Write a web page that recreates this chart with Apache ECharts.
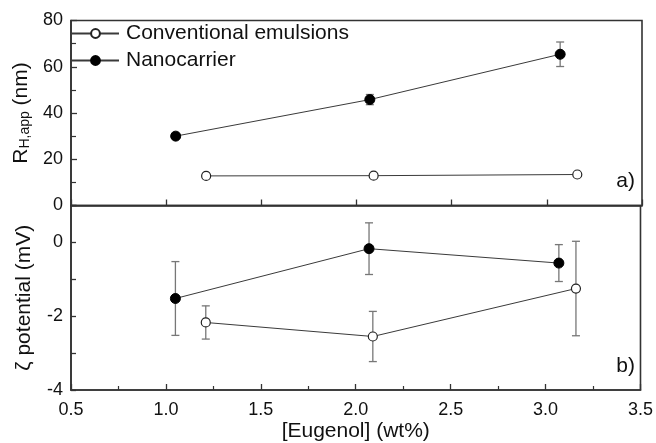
<!DOCTYPE html>
<html>
<head>
<meta charset="utf-8">
<script src="https://cdn.jsdelivr.net/npm/echarts@6/dist/echarts.min.js"></script>
<style>
  html, body { margin: 0; padding: 0; background: #fff; }
  #chart { width: 656px; height: 443px; }
</style>
</head>
<body>
<div id="chart"></div>
<script>
// eugenol content (wt%) of each sample
const convX = [1.21, 2.09, 3.16];
const nanoX = [1.05, 2.07, 3.07];

// apparent hydrodynamic radius (nm) and its error
const convR = [12.8, 12.9, 13.4];
const convRErr = [0.5, 0.5, 0.6];
const nanoR = [30.0, 45.8, 65.4];
const nanoRErr = [0.8, 2.2, 5.3];

// zeta potential (mV) and its error
const convZeta = [-2.17, -2.55, -1.25];
const convZetaErr = [0.45, 0.68, 1.28];
const nanoZeta = [-1.52, -0.17, -0.56];
const nanoZetaErr = [1.0, 0.7, 0.5];

const FONT = "Liberation Sans, Arial, sans-serif";
const AXIS_COLOR = "#333";
const LINE_COLOR = "#3a3a3a";
const ERR_COLOR = "#777";

const pairs = (xs, ys) => xs.map((x, i) => [x, ys[i]]);
const errData = (xs, ys, es) => xs.map((x, i) => [x, ys[i] - es[i], ys[i] + es[i]]);

function renderErr(params, api) {
  const lo = api.coord([api.value(0), api.value(1)]);
  const hi = api.coord([api.value(0), api.value(2)]);
  const w = 4;
  const style = { stroke: ERR_COLOR, lineWidth: 1.3 };
  return {
    type: "group",
    children: [
      { type: "line", shape: { x1: lo[0], y1: lo[1], x2: hi[0], y2: hi[1] }, style },
      { type: "line", shape: { x1: lo[0] - w, y1: lo[1], x2: lo[0] + w, y2: lo[1] }, style },
      { type: "line", shape: { x1: hi[0] - w, y1: hi[1], x2: hi[0] + w, y2: hi[1] }, style },
    ],
  };
}

const openMarker = { color: "#fff", borderColor: "#222", borderWidth: 1.2 };
const filledMarker = { color: "#000", borderColor: "#000", borderWidth: 1 };

const xCommon = {
  type: "value",
  min: 0.5,
  max: 3.5,
  interval: 0.5,
  axisLine: { onZero: false, lineStyle: { color: AXIS_COLOR, width: 1.6 } },
  axisTick: { inside: true, length: 6, lineStyle: { color: AXIS_COLOR, width: 1.3 } },
  splitLine: { show: false },
};

const chart = echarts.init(document.getElementById("chart"), null, { renderer: "canvas" });

chart.setOption({
  backgroundColor: "#fff",
  animation: false,
  textStyle: { fontFamily: FONT },
  grid: [
    { left: 71, right: 14, top: 20.5, height: 185, show: true, borderColor: AXIS_COLOR, borderWidth: 1.6 },
    { left: 71, right: 14, top: 205.5, bottom: 51, show: true, borderColor: AXIS_COLOR, borderWidth: 1.6 },
  ],
  legend: {
    orient: "vertical",
    left: 71,
    top: 23,
    padding: 0,
    itemWidth: 47,
    itemHeight: 11,
    itemGap: 6,
    textStyle: { fontFamily: FONT, fontSize: 21, color: "#111", padding: [0, 0, 0, 2] },
    data: ["Conventional emulsions", "Nanocarrier"],
  },
  graphic: [
    { type: "text", right: 21, top: 171, style: { text: "a)", font: "21px " + FONT, fill: "#111" } },
    { type: "text", right: 21, top: 356, style: { text: "b)", font: "21px " + FONT, fill: "#111" } },
  ],
  xAxis: [
    Object.assign({}, xCommon, { gridIndex: 0, axisLabel: { show: false } }),
    Object.assign({}, xCommon, {
      gridIndex: 1,
      minorTick: { show: true, splitNumber: 2, length: 4, lineStyle: { color: AXIS_COLOR, width: 1.2 } },
      axisLabel: {
        margin: 11,
        fontSize: 18,
        color: "#111",
        formatter: (v) => v.toFixed(1),
      },
      name: "[Eugenol] (wt%)",
      nameLocation: "middle",
      nameGap: 31,
      nameTextStyle: { fontSize: 21, color: "#111" },
    }),
  ],
  yAxis: [
    {
      type: "value",
      gridIndex: 0,
      min: 0,
      max: 80,
      interval: 20,
      axisLine: { show: true, lineStyle: { color: AXIS_COLOR, width: 1.6 } },
      axisTick: { inside: true, length: 6, lineStyle: { color: AXIS_COLOR, width: 1.3 } },
      minorTick: { show: true, splitNumber: 2, length: 5, lineStyle: { color: AXIS_COLOR, width: 1.2 } },
      splitLine: { show: false },
      axisLabel: { margin: 8, fontSize: 18, color: "#111" },
      name: "{r|R}{s|H,app}{r| (nm)}",
      nameLocation: "middle",
      nameRotate: 90,
      nameGap: 36,
      nameTextStyle: {
        color: "#111",
        rich: {
          r: { fontSize: 21, fontFamily: FONT, color: "#111", verticalAlign: "bottom", lineHeight: 27 },
          s: { fontSize: 14, fontFamily: FONT, color: "#111", verticalAlign: "bottom", lineHeight: 14 },
        },
      },
    },
    {
      type: "value",
      gridIndex: 1,
      min: -4,
      max: 1,
      interval: 1,
      axisLine: { show: true, onZero: false, lineStyle: { color: AXIS_COLOR, width: 1.6 } },
      axisTick: { inside: true, length: 5, lineStyle: { color: AXIS_COLOR, width: 1.3 } },
      splitLine: { show: false },
      axisLabel: {
        margin: 8,
        fontSize: 18,
        color: "#111",
        formatter: (v) => (v % 2 === 0 ? String(v) : ""),
      },
      name: "ζ potential (mV)",
      nameLocation: "middle",
      nameRotate: 90,
      nameGap: 36,
      nameTextStyle: { fontSize: 21, color: "#111" },
    },
  ],
  series: [
    {
      name: "Conventional emulsions",
      type: "line",
      xAxisIndex: 0,
      yAxisIndex: 0,
      data: pairs(convX, convR),
      symbol: "circle",
      symbolSize: 9,
      z: 3,
      lineStyle: { color: LINE_COLOR, width: 1 },
      itemStyle: openMarker,
    },
    {
      name: "Nanocarrier",
      type: "line",
      xAxisIndex: 0,
      yAxisIndex: 0,
      data: pairs(nanoX, nanoR),
      symbol: "circle",
      symbolSize: 10,
      z: 3,
      lineStyle: { color: LINE_COLOR, width: 1 },
      itemStyle: filledMarker,
    },
    {
      name: "Conventional emulsions",
      type: "line",
      xAxisIndex: 1,
      yAxisIndex: 1,
      data: pairs(convX, convZeta),
      symbol: "circle",
      symbolSize: 9,
      z: 3,
      lineStyle: { color: LINE_COLOR, width: 1 },
      itemStyle: openMarker,
    },
    {
      name: "Nanocarrier",
      type: "line",
      xAxisIndex: 1,
      yAxisIndex: 1,
      data: pairs(nanoX, nanoZeta),
      symbol: "circle",
      symbolSize: 10,
      z: 3,
      lineStyle: { color: LINE_COLOR, width: 1 },
      itemStyle: filledMarker,
    },
    { type: "custom", xAxisIndex: 0, yAxisIndex: 0, z: 2, renderItem: renderErr, data: errData(convX, convR, convRErr) },
    { type: "custom", xAxisIndex: 0, yAxisIndex: 0, z: 2, renderItem: renderErr, data: errData(nanoX, nanoR, nanoRErr) },
    { type: "custom", xAxisIndex: 1, yAxisIndex: 1, z: 2, renderItem: renderErr, data: errData(convX, convZeta, convZetaErr) },
    { type: "custom", xAxisIndex: 1, yAxisIndex: 1, z: 2, renderItem: renderErr, data: errData(nanoX, nanoZeta, nanoZetaErr) },
  ],
});

window.addEventListener("resize", () => chart.resize());
</script>
</body>
</html>
